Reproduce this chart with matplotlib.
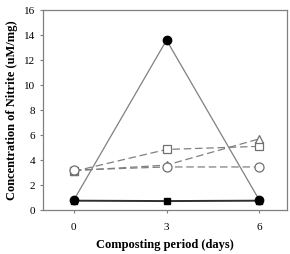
import numpy as np
import matplotlib
matplotlib.use("Agg")
import matplotlib.pyplot as plt

plt.rcParams['font.family'] = ['Liberation Serif', 'DejaVu Serif']

# donnees
jours = [0, 3, 6]
cercle_plein = [0.8, 13.6, 0.8]
carre_plein = [0.75, 0.72, 0.75]
carre_vide = [3.1, 4.85, 5.1]
triangle_vide = [3.15, 3.6, 5.7]
cercle_vide = [3.2, 3.45, 3.45]

fig = plt.figure(figsize=(2.9, 2.54), dpi=100)
ax = fig.add_axes([0.148, 0.173, 0.842, 0.787])

gris = "#808080"
tirets = (0, (6, 3))
ax.plot(jours, cercle_plein, color=gris, lw=0.9, marker="o", ms=6,
        mfc="black", mec="black", zorder=3)
ax.plot(jours, carre_plein, color="#303030", lw=1.4, marker="s", ms=4.5,
        mfc="black", mec="black", zorder=2)
ax.plot(jours, carre_vide, color=gris, lw=0.9, ls=tirets, marker="s", ms=5.5,
        mfc="white", mec="#707070", mew=0.9, zorder=2)
ax.plot(jours, triangle_vide, color=gris, lw=0.9, ls=tirets, marker="^", ms=6,
        mfc="white", mec="#707070", mew=0.9, zorder=2)
ax.plot(jours, cercle_vide, color=gris, lw=0.9, ls=tirets, marker="o", ms=6.5,
        mfc="white", mec="#707070", mew=0.9, zorder=2)

ax.set_xlim(-1.0, 6.9)
ax.set_ylim(0, 16)
ax.set_xticks([0, 3, 6])
ax.set_yticks(np.arange(0, 17, 2))
ax.tick_params(labelsize=8, length=2.5, color=gris, pad=3)
ax.tick_params(axis="x", pad=7)
for s in ax.spines.values():
    s.set_color(gris)
    s.set_linewidth(0.9)

ax.set_xlabel("Composting period (days)", fontsize=9, fontweight="bold", labelpad=5)
ax.set_ylabel("Concentration of Nitrite (uM/mg)", fontsize=9, fontweight="bold", labelpad=4)

fig.savefig("out.png", dpi=100)
